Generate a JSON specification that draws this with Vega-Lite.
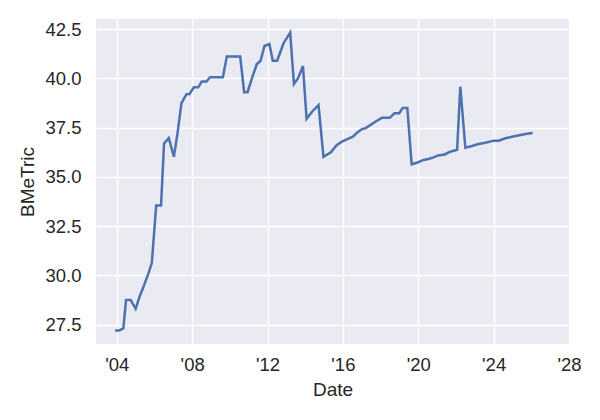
{
  "$schema": "https://vega.github.io/schema/vega-lite/v6.json",
  "width": 473,
  "height": 325,
  "autosize": {"type": "none"},
  "padding": {"left": 96, "top": 19, "right": 31, "bottom": 76},
  "background": "white",
  "config": {
    "view": {"fill": "#EAEAF2", "stroke": null},
    "font": "Liberation Sans",
    "axis": {
      "domain": false,
      "ticks": false,
      "grid": true,
      "gridColor": "white",
      "gridWidth": 1.4,
      "labelFont": "Liberation Sans",
      "titleFont": "Liberation Sans",
      "labelFontSize": 18.5,
      "titleFontSize": 19,
      "labelColor": "#262626",
      "titleColor": "#262626",
      "titleFontWeight": "normal"
    }
  },
  "data": {
    "values": [
      {"Date": "2003-11-28", "BMeTric": 27.2},
      {"Date": "2004-02-20", "BMeTric": 27.2},
      {"Date": "2004-05-08", "BMeTric": 27.31},
      {"Date": "2004-06-28", "BMeTric": 28.74},
      {"Date": "2004-09-27", "BMeTric": 28.74},
      {"Date": "2005-01-01", "BMeTric": 28.3},
      {"Date": "2005-03-15", "BMeTric": 28.9},
      {"Date": "2005-06-14", "BMeTric": 29.5},
      {"Date": "2005-09-06", "BMeTric": 30.1},
      {"Date": "2005-11-10", "BMeTric": 30.63},
      {"Date": "2006-02-03", "BMeTric": 33.55},
      {"Date": "2006-05-08", "BMeTric": 33.55},
      {"Date": "2006-07-05", "BMeTric": 36.7},
      {"Date": "2006-10-05", "BMeTric": 36.97},
      {"Date": "2007-01-12", "BMeTric": 36.02},
      {"Date": "2007-03-23", "BMeTric": 37.21},
      {"Date": "2007-06-07", "BMeTric": 38.74},
      {"Date": "2007-09-13", "BMeTric": 39.2},
      {"Date": "2007-11-10", "BMeTric": 39.21},
      {"Date": "2008-02-03", "BMeTric": 39.55},
      {"Date": "2008-04-27", "BMeTric": 39.55},
      {"Date": "2008-07-05", "BMeTric": 39.84},
      {"Date": "2008-10-05", "BMeTric": 39.84},
      {"Date": "2008-12-13", "BMeTric": 40.06},
      {"Date": "2009-08-19", "BMeTric": 40.06},
      {"Date": "2009-11-03", "BMeTric": 41.11},
      {"Date": "2010-07-20", "BMeTric": 41.11},
      {"Date": "2010-10-05", "BMeTric": 39.3},
      {"Date": "2010-12-09", "BMeTric": 39.3},
      {"Date": "2011-03-15", "BMeTric": 40.09},
      {"Date": "2011-06-07", "BMeTric": 40.72},
      {"Date": "2011-08-19", "BMeTric": 40.9},
      {"Date": "2011-11-03", "BMeTric": 41.65},
      {"Date": "2012-02-06", "BMeTric": 41.75},
      {"Date": "2012-04-12", "BMeTric": 40.9},
      {"Date": "2012-07-05", "BMeTric": 40.9},
      {"Date": "2012-11-07", "BMeTric": 41.79},
      {"Date": "2013-03-15", "BMeTric": 42.33},
      {"Date": "2013-05-27", "BMeTric": 39.72},
      {"Date": "2013-08-15", "BMeTric": 40.01},
      {"Date": "2013-11-18", "BMeTric": 40.63},
      {"Date": "2014-01-27", "BMeTric": 37.95},
      {"Date": "2014-05-12", "BMeTric": 38.31},
      {"Date": "2014-09-16", "BMeTric": 38.65},
      {"Date": "2014-12-20", "BMeTric": 36.02},
      {"Date": "2015-05-12", "BMeTric": 36.25},
      {"Date": "2015-09-06", "BMeTric": 36.62},
      {"Date": "2015-12-13", "BMeTric": 36.79},
      {"Date": "2016-03-17", "BMeTric": 36.91},
      {"Date": "2016-07-12", "BMeTric": 37.04},
      {"Date": "2016-10-01", "BMeTric": 37.24},
      {"Date": "2017-01-05", "BMeTric": 37.43},
      {"Date": "2017-03-11", "BMeTric": 37.47},
      {"Date": "2017-06-14", "BMeTric": 37.63},
      {"Date": "2017-09-20", "BMeTric": 37.8},
      {"Date": "2018-01-27", "BMeTric": 38.0},
      {"Date": "2018-06-25", "BMeTric": 38.0},
      {"Date": "2018-09-27", "BMeTric": 38.23},
      {"Date": "2018-12-28", "BMeTric": 38.23},
      {"Date": "2019-03-04", "BMeTric": 38.5},
      {"Date": "2019-06-03", "BMeTric": 38.5},
      {"Date": "2019-08-26", "BMeTric": 35.64},
      {"Date": "2019-12-06", "BMeTric": 35.72},
      {"Date": "2020-04-12", "BMeTric": 35.86},
      {"Date": "2020-07-20", "BMeTric": 35.91},
      {"Date": "2020-10-23", "BMeTric": 35.99},
      {"Date": "2021-01-19", "BMeTric": 36.09},
      {"Date": "2021-05-27", "BMeTric": 36.14},
      {"Date": "2021-09-13", "BMeTric": 36.28},
      {"Date": "2022-01-23", "BMeTric": 36.38},
      {"Date": "2022-03-26", "BMeTric": 39.58},
      {"Date": "2022-07-02", "BMeTric": 36.48},
      {"Date": "2022-11-07", "BMeTric": 36.57},
      {"Date": "2023-03-15", "BMeTric": 36.67},
      {"Date": "2023-07-24", "BMeTric": 36.73},
      {"Date": "2024-01-01", "BMeTric": 36.84},
      {"Date": "2024-04-08", "BMeTric": 36.84},
      {"Date": "2024-08-15", "BMeTric": 36.96},
      {"Date": "2024-12-24", "BMeTric": 37.04},
      {"Date": "2025-06-03", "BMeTric": 37.13},
      {"Date": "2025-10-08", "BMeTric": 37.19},
      {"Date": "2026-01-27", "BMeTric": 37.23}
    ]
  },
  "mark": {"type": "line", "color": "#4C72B0", "strokeWidth": 2.5, "clip": true},
  "encoding": {
    "x": {
      "field": "Date",
      "type": "temporal",
      "scale": {"domain": ["2002-11-24", "2028-01-01"], "nice": false},
      "axis": {
        "title": "Date",
        "values": ["2004-01-01", "2008-01-01", "2012-01-01", "2016-01-01", "2020-01-01", "2024-01-01", "2028-01-01"],
        "format": "'%y",
        "labelPadding": 11,
        "titlePadding": 7,
        "labelFlush": false,
        "labelOverlap": false
      }
    },
    "y": {
      "field": "BMeTric",
      "type": "quantitative",
      "scale": {"domain": [26.51, 43.02], "nice": false, "zero": false},
      "axis": {
        "title": "BMeTric",
        "values": [27.5, 30, 32.5, 35, 37.5, 40, 42.5],
        "format": ".1f",
        "labelPadding": 15,
        "titlePadding": 7,
        "labelFlush": false,
        "labelOverlap": false
      }
    }
  }
}
